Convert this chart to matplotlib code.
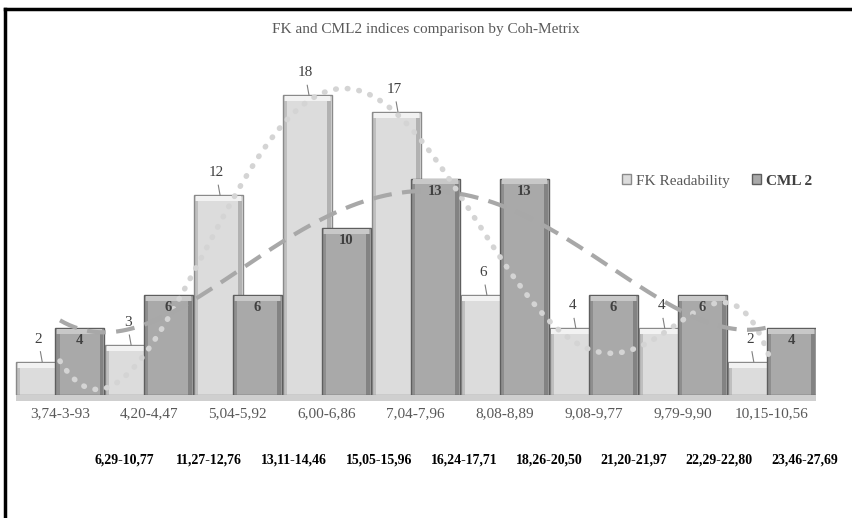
import numpy as np
import matplotlib.pyplot as plt
from matplotlib.patches import Patch, Rectangle
import matplotlib.transforms as mtransforms

plt.rcParams['font.family'] = ['Liberation Serif', 'DejaVu Serif']

fk_ranges = ['3,74-3-93', '4,20-4,47', '5,04-5,92', '6,00-6,86', '7,04-7,96',
             '8,08-8,89', '9,08-9,77', '9,79-9,90', '10,15-10,56']
cml_ranges = ['6,29-10,77', '11,27-12,76', '13,11-14,46', '15,05-15,96', '16,24-17,71',
              '18,26-20,50', '21,20-21,97', '22,29-22,80', '23,46-27,69']
fk_counts = [2, 3, 12, 18, 17, 6, 4, 4, 2]
cml_counts = [4, 6, 6, 10, 13, 13, 6, 6, 4]

W, H = 852, 518
fig = plt.figure(figsize=(W / 100, H / 100), dpi=100)
ax = fig.add_axes([15.5 / W, 1 - 395 / H, (816 - 15.5) / W, (395 - 62) / H])
ax.set_xlim(-0.5, 8.5)
ax.set_ylim(0, 20)
for s in ax.spines.values():
    s.set_visible(False)
ax.tick_params(length=0)
ax.set_yticks([])

x = np.arange(len(fk_counts))
bw = 0.55
off = 0.22

def bevel_bars(xs, vals, face, edge, light, z):
    bars = ax.bar(xs, vals, width=bw, color=face, edgecolor=edge, linewidth=1.0, zorder=z)
    for b in bars:
        bx, bwid, bh = b.get_x(), b.get_width(), b.get_height()
        ax.add_patch(Rectangle((bx + 0.02, bh - 0.35), bwid - 0.04, 0.3, color=light, lw=0, zorder=z + 0.1))
        ax.add_patch(Rectangle((bx + 0.01, 0), 0.04, bh - 0.35, color=edge, alpha=0.35, lw=0, zorder=z + 0.1))
        ax.add_patch(Rectangle((bx + bwid - 0.05, 0), 0.04, bh - 0.35, color=edge, alpha=0.5, lw=0, zorder=z + 0.1))
    return bars

bevel_bars(x - off, fk_counts, '#dcdcdc', '#8a8a8a', '#f2f2f2', 2)
bevel_bars(x + off, cml_counts, '#a9a9a9', '#5e5e5e', '#c8c8c8', 3)

# floor strip
ax.add_patch(Rectangle((-0.5, -0.35), 9.0, 0.35, color='#cfcfcf', lw=0, clip_on=False, zorder=1))

# polynomial trendlines
xs = np.linspace(0, 8, 300)
fk_fit = np.polyval(np.polyfit(x, fk_counts, 6), xs)
cml_fit = np.polyval(np.polyfit(x, cml_counts, 4), xs)
ax.plot(xs, fk_fit, color='#d4d4d4', lw=4, linestyle=(0, (0.1, 2.0)), dash_capstyle='round', zorder=5)
ax.plot(xs, cml_fit, color='#a8a8a8', lw=3, linestyle=(0, (4.5, 2.5)), zorder=5)

# data labels
for xi, v in zip(x - off, fk_counts):
    ax.plot([xi, xi + 0.02], [v + 0.6, v], color='#808080', lw=0.8, zorder=6)
    ax.text(xi - 0.02, v + 1.35, str(v), ha='center', va='center', fontsize=11, color='#404040', zorder=6)
for xi, v in zip(x + off, cml_counts):
    ax.text(xi, v - 0.75, str(v), ha='center', va='center', fontsize=10.5, fontweight='bold',
            color='#404040', zorder=6)

ax.set_xticks(x)
ax.set_xticklabels(fk_ranges, fontsize=11, color='#595959')
ax.tick_params(axis='x', pad=9)

trans = mtransforms.blended_transform_factory(ax.transData, ax.transAxes)
for i, lab in enumerate(cml_ranges):
    ax.text(0.72 + i * 0.956, (395 - 460) / 333, lab, transform=trans, ha='center', va='center',
            fontsize=10, fontweight='bold', color='black')

ax.text(0.5, 1 - 30 / H, 'FK and CML2 indices comparison by Coh-Metrix', transform=fig.transFigure,
        ha='center', va='center', fontsize=11, color='#595959')

handles = [Patch(facecolor='#dcdcdc', edgecolor='#8a8a8a'), Patch(facecolor='#a9a9a9', edgecolor='#5e5e5e')]
leg = fig.legend(handles, ['FK Readability', 'CML 2'], loc='center', bbox_to_anchor=(717 / W, 1 - 181 / H),
                 ncol=2, frameon=False, fontsize=11, handlelength=0.6, handleheight=0.6,
                 handletextpad=0.3, columnspacing=1.5)
txts = leg.get_texts()
txts[0].set_color('#595959')
txts[1].set_color('#404040')
txts[1].set_fontweight('bold')

# outer frame (top and left edges visible)
fig.add_artist(plt.Line2D([5 / W, 1], [1 - 9 / H, 1 - 9 / H], color='black', lw=2.5))
fig.add_artist(plt.Line2D([5 / W, 5 / W], [0, 1 - 9 / H], color='black', lw=2.5))

fig.savefig('out.png', dpi=100)
